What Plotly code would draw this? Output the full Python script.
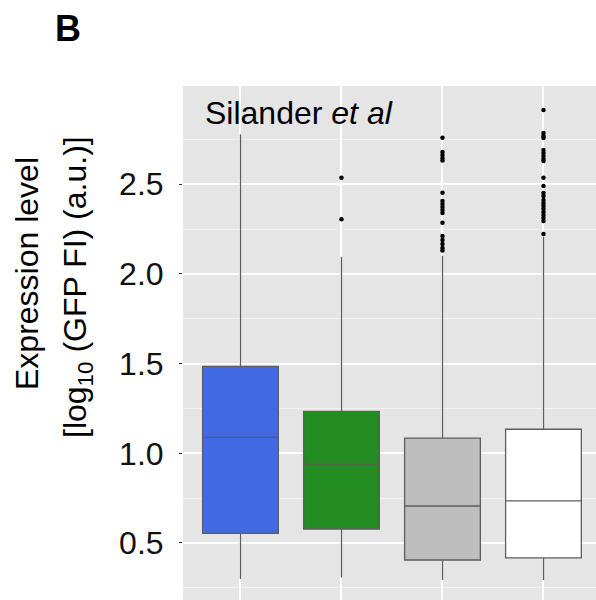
import plotly.graph_objects as go

# ---- data ----
categories = ["Group 1", "Group 2", "Group 3", "Group 4"]
q1 = [0.554, 0.578, 0.405, 0.417]
median = [1.089, 0.940, 0.706, 0.735]
q3 = [1.485, 1.234, 1.085, 1.134]
lower_whisker = [0.299, 0.308, 0.293, 0.293]
upper_whisker = [2.779, 2.096, 2.102, 2.208]
fill_colors = ["#4169E1", "#228B22", "#BEBEBE", "#FFFFFF"]

outliers_g1 = []
outliers_g2 = [2.537, 2.305]
outliers_g3 = [2.760, 2.680, 2.663, 2.647, 2.632, 2.453, 2.407, 2.390, 2.373,
               2.357, 2.340, 2.286, 2.212, 2.190, 2.167, 2.145, 2.131]
outliers_g4 = [2.914, 2.786, 2.769, 2.758, 2.691, 2.675, 2.658, 2.641, 2.630,
               2.537, 2.491, 2.452, 2.435, 2.413, 2.396, 2.380, 2.363, 2.346,
               2.329, 2.312, 2.295, 2.223]
outliers = [outliers_g1, outliers_g2, outliers_g3, outliers_g4]

y_ticks = [0.5, 1.0, 1.5, 2.0, 2.5]
y_tick_labels = ["0.5", "1.0", "1.5", "2.0", "2.5"]

FONT = "Liberation Sans, Arial, Helvetica, sans-serif"
W, H = 596, 600
ML, MR, MT, MB = 183, 0, 86, 0

fig = go.Figure()
for i, cat in enumerate(categories):
    fig.add_trace(go.Box(
        x=[cat], q1=[q1[i]], median=[median[i]], q3=[q3[i]],
        lowerfence=[lower_whisker[i]], upperfence=[upper_whisker[i]],
        fillcolor=fill_colors[i],
        line=dict(color="#5e5e5e", width=1.3),
        width=0.75, boxpoints=False, whiskerwidth=0,
        showlegend=False, hoverinfo="y",
    ))
    if outliers[i]:
        fig.add_trace(go.Scatter(
            x=[cat] * len(outliers[i]), y=outliers[i], mode="markers",
            marker=dict(color="black", size=4.5),
            showlegend=False, hoverinfo="y",
        ))

fig.update_layout(
    width=W, height=H,
    margin=dict(l=ML, r=MR, t=MT, b=MB, pad=0),
    paper_bgcolor="white",
    plot_bgcolor="#E5E5E5",
    boxmode="overlay",
    font=dict(family=FONT, color="black"),
    xaxis=dict(
        type="category", categoryorder="array", categoryarray=categories,
        range=[-0.569, 3.52], showticklabels=False, ticks="",
        showgrid=True, gridcolor="white", gridwidth=1.6,
        zeroline=False, showline=False, fixedrange=True,
    ),
    yaxis=dict(
        range=[0.182, 3.048],
        tickmode="array", tickvals=y_ticks, ticktext=y_tick_labels,
        tickfont=dict(size=32, color="#111111", family=FONT),
        ticks="outside", ticklen=3, tickwidth=1, tickcolor="#333333",
        ticklabelstandoff=9,
        showgrid=True, gridcolor="white", gridwidth=1.6,
        minor=dict(tickmode="linear", tick0=0.25, dtick=0.5, showgrid=True,
                   gridcolor="#F2F2F2", gridwidth=0.8, ticks=""),
        zeroline=False, showline=False, fixedrange=True,
    ),
)

plot_w = W - ML - MR
plot_h = H - MT - MB

def px_x(px):
    return (px - ML) / plot_w

def px_y(py):
    return (H - MB - py) / plot_h

annotations = [
    dict(text="<b>B</b>", x=px_x(68), y=px_y(29), xref="paper", yref="paper",
         xanchor="center", yanchor="middle", showarrow=False,
         font=dict(size=36, family=FONT, color="black")),
    dict(text="Silander <i>et al</i>", x=px_x(203), y=px_y(113),
         xref="paper", yref="paper", xanchor="left", yanchor="middle",
         showarrow=False, font=dict(size=32, family=FONT, color="black")),
    dict(text="Expression level", x=px_x(27), y=px_y(274),
         xref="paper", yref="paper", xanchor="center", yanchor="middle",
         textangle=-90, showarrow=False,
         font=dict(size=32, family=FONT, color="black")),
    dict(text="[log<sub>10</sub> (GFP FI) (a.u.)]", x=px_x(77), y=px_y(287),
         xref="paper", yref="paper", xanchor="center", yanchor="middle",
         textangle=-90, showarrow=False,
         font=dict(size=32, family=FONT, color="black")),
]
fig.update_layout(annotations=annotations)

fig.write_html(
    "out.html",
    config={"displayModeBar": False},
    post_script="document.body.style.margin='0px';document.body.style.overflow='hidden';",
)
